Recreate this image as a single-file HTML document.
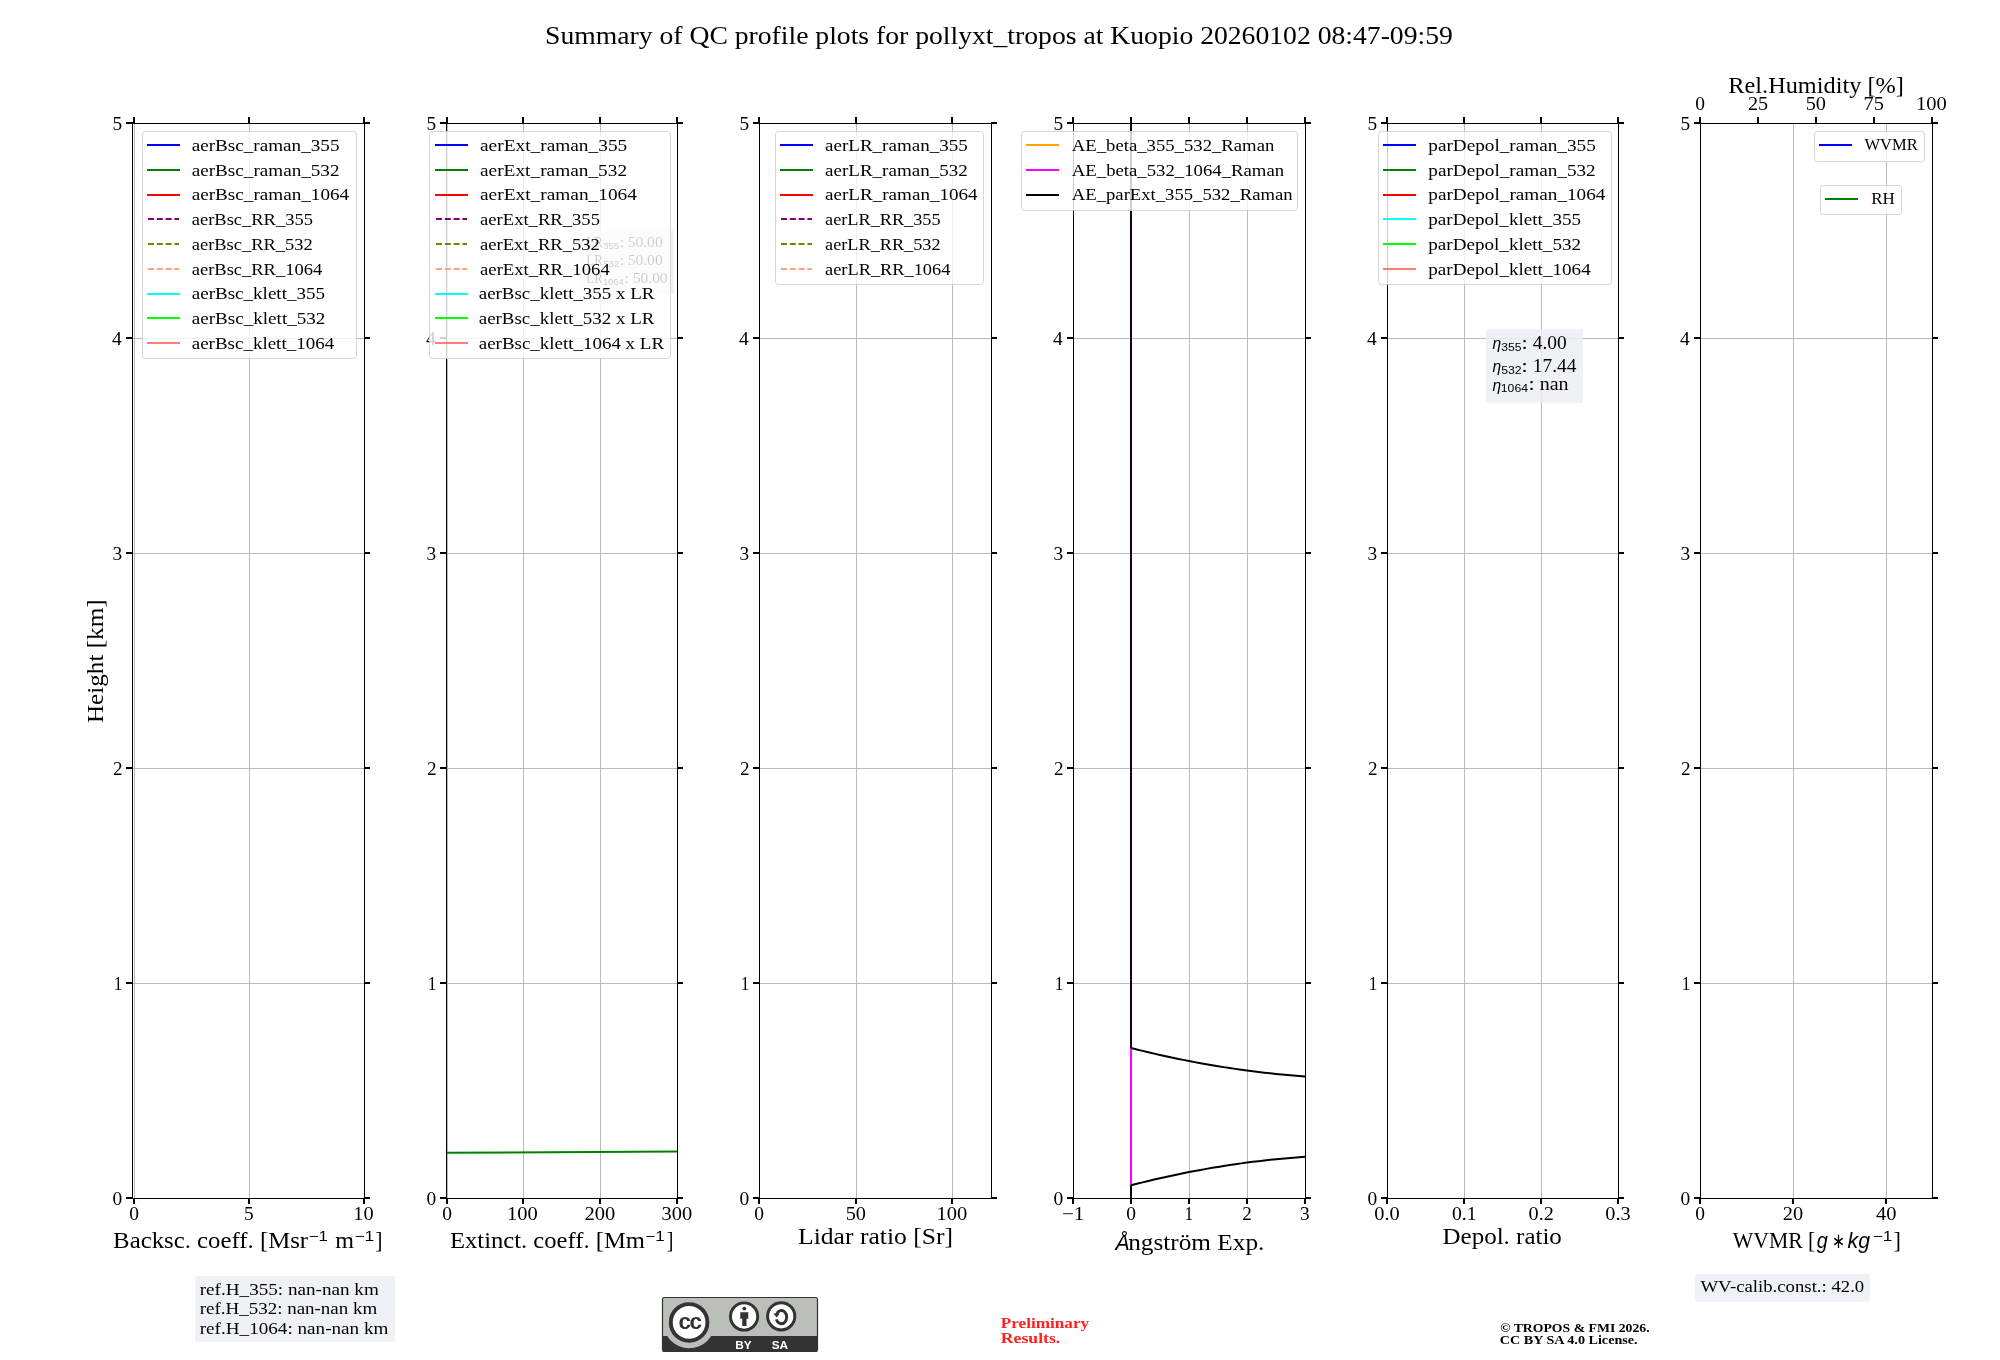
<!DOCTYPE html>
<html><head><meta charset="utf-8"><title>QC profile summary</title>
<style>html,body{margin:0;padding:0;background:#fff;width:2000px;height:1360px;overflow:hidden}</style>
</head><body>
<svg width="2000" height="1360" viewBox="0 0 2000 1360" style="display:block;will-change:transform">
<rect width="2000" height="1360" fill="#fff"/>
<line x1="134.5" y1="123" x2="134.5" y2="1199" stroke="#b9b9b9" stroke-width="1"/>
<line x1="249.5" y1="123" x2="249.5" y2="1199" stroke="#b9b9b9" stroke-width="1"/>
<line x1="364.5" y1="123" x2="364.5" y2="1199" stroke="#b9b9b9" stroke-width="1"/>
<line x1="132" y1="1198.5" x2="365" y2="1198.5" stroke="#b9b9b9" stroke-width="1"/>
<line x1="132" y1="983.5" x2="365" y2="983.5" stroke="#b9b9b9" stroke-width="1"/>
<line x1="132" y1="768.5" x2="365" y2="768.5" stroke="#b9b9b9" stroke-width="1"/>
<line x1="132" y1="553.5" x2="365" y2="553.5" stroke="#b9b9b9" stroke-width="1"/>
<line x1="132" y1="338.5" x2="365" y2="338.5" stroke="#b9b9b9" stroke-width="1"/>
<line x1="132" y1="123.5" x2="365" y2="123.5" stroke="#b9b9b9" stroke-width="1"/>
<line x1="447.5" y1="123" x2="447.5" y2="1199" stroke="#b9b9b9" stroke-width="1"/>
<line x1="523.5" y1="123" x2="523.5" y2="1199" stroke="#b9b9b9" stroke-width="1"/>
<line x1="600.5" y1="123" x2="600.5" y2="1199" stroke="#b9b9b9" stroke-width="1"/>
<line x1="677.5" y1="123" x2="677.5" y2="1199" stroke="#b9b9b9" stroke-width="1"/>
<line x1="446" y1="1198.5" x2="678" y2="1198.5" stroke="#b9b9b9" stroke-width="1"/>
<line x1="446" y1="983.5" x2="678" y2="983.5" stroke="#b9b9b9" stroke-width="1"/>
<line x1="446" y1="768.5" x2="678" y2="768.5" stroke="#b9b9b9" stroke-width="1"/>
<line x1="446" y1="553.5" x2="678" y2="553.5" stroke="#b9b9b9" stroke-width="1"/>
<line x1="446" y1="338.5" x2="678" y2="338.5" stroke="#b9b9b9" stroke-width="1"/>
<line x1="446" y1="123.5" x2="678" y2="123.5" stroke="#b9b9b9" stroke-width="1"/>
<line x1="759.5" y1="123" x2="759.5" y2="1199" stroke="#b9b9b9" stroke-width="1"/>
<line x1="856.5" y1="123" x2="856.5" y2="1199" stroke="#b9b9b9" stroke-width="1"/>
<line x1="952.5" y1="123" x2="952.5" y2="1199" stroke="#b9b9b9" stroke-width="1"/>
<line x1="759" y1="1198.5" x2="992" y2="1198.5" stroke="#b9b9b9" stroke-width="1"/>
<line x1="759" y1="983.5" x2="992" y2="983.5" stroke="#b9b9b9" stroke-width="1"/>
<line x1="759" y1="768.5" x2="992" y2="768.5" stroke="#b9b9b9" stroke-width="1"/>
<line x1="759" y1="553.5" x2="992" y2="553.5" stroke="#b9b9b9" stroke-width="1"/>
<line x1="759" y1="338.5" x2="992" y2="338.5" stroke="#b9b9b9" stroke-width="1"/>
<line x1="759" y1="123.5" x2="992" y2="123.5" stroke="#b9b9b9" stroke-width="1"/>
<line x1="1073.5" y1="123" x2="1073.5" y2="1199" stroke="#b9b9b9" stroke-width="1"/>
<line x1="1131.5" y1="123" x2="1131.5" y2="1199" stroke="#b9b9b9" stroke-width="1"/>
<line x1="1189.5" y1="123" x2="1189.5" y2="1199" stroke="#b9b9b9" stroke-width="1"/>
<line x1="1247.5" y1="123" x2="1247.5" y2="1199" stroke="#b9b9b9" stroke-width="1"/>
<line x1="1305.5" y1="123" x2="1305.5" y2="1199" stroke="#b9b9b9" stroke-width="1"/>
<line x1="1073" y1="1198.5" x2="1306" y2="1198.5" stroke="#b9b9b9" stroke-width="1"/>
<line x1="1073" y1="983.5" x2="1306" y2="983.5" stroke="#b9b9b9" stroke-width="1"/>
<line x1="1073" y1="768.5" x2="1306" y2="768.5" stroke="#b9b9b9" stroke-width="1"/>
<line x1="1073" y1="553.5" x2="1306" y2="553.5" stroke="#b9b9b9" stroke-width="1"/>
<line x1="1073" y1="338.5" x2="1306" y2="338.5" stroke="#b9b9b9" stroke-width="1"/>
<line x1="1073" y1="123.5" x2="1306" y2="123.5" stroke="#b9b9b9" stroke-width="1"/>
<line x1="1387.5" y1="123" x2="1387.5" y2="1199" stroke="#b9b9b9" stroke-width="1"/>
<line x1="1464.5" y1="123" x2="1464.5" y2="1199" stroke="#b9b9b9" stroke-width="1"/>
<line x1="1541.5" y1="123" x2="1541.5" y2="1199" stroke="#b9b9b9" stroke-width="1"/>
<line x1="1618.5" y1="123" x2="1618.5" y2="1199" stroke="#b9b9b9" stroke-width="1"/>
<line x1="1387" y1="1198.5" x2="1619" y2="1198.5" stroke="#b9b9b9" stroke-width="1"/>
<line x1="1387" y1="983.5" x2="1619" y2="983.5" stroke="#b9b9b9" stroke-width="1"/>
<line x1="1387" y1="768.5" x2="1619" y2="768.5" stroke="#b9b9b9" stroke-width="1"/>
<line x1="1387" y1="553.5" x2="1619" y2="553.5" stroke="#b9b9b9" stroke-width="1"/>
<line x1="1387" y1="338.5" x2="1619" y2="338.5" stroke="#b9b9b9" stroke-width="1"/>
<line x1="1387" y1="123.5" x2="1619" y2="123.5" stroke="#b9b9b9" stroke-width="1"/>
<line x1="1700.5" y1="123" x2="1700.5" y2="1199" stroke="#b9b9b9" stroke-width="1"/>
<line x1="1793.5" y1="123" x2="1793.5" y2="1199" stroke="#b9b9b9" stroke-width="1"/>
<line x1="1886.5" y1="123" x2="1886.5" y2="1199" stroke="#b9b9b9" stroke-width="1"/>
<line x1="1700" y1="1198.5" x2="1933" y2="1198.5" stroke="#b9b9b9" stroke-width="1"/>
<line x1="1700" y1="983.5" x2="1933" y2="983.5" stroke="#b9b9b9" stroke-width="1"/>
<line x1="1700" y1="768.5" x2="1933" y2="768.5" stroke="#b9b9b9" stroke-width="1"/>
<line x1="1700" y1="553.5" x2="1933" y2="553.5" stroke="#b9b9b9" stroke-width="1"/>
<line x1="1700" y1="338.5" x2="1933" y2="338.5" stroke="#b9b9b9" stroke-width="1"/>
<line x1="1700" y1="123.5" x2="1933" y2="123.5" stroke="#b9b9b9" stroke-width="1"/>
<g clip-path="url(#c2)"><path d="M447,1152.75 L677,1151.5" stroke="#008000" stroke-width="2" fill="none"/></g>
<g clip-path="url(#c4)" fill="none" stroke-width="2" stroke-linejoin="round">
<path d="M1131,123 L1131,1198" stroke="#ff00ff"/>
<path d="M1131,123 L1131,1048" stroke="#1a001a"/>
<path d="M1131,1185.3 L1131,1198" stroke="#000"/>
<path d="M1131.00,1048.00 L1136.80,1049.46 L1142.60,1050.88 L1148.40,1052.27 L1154.20,1053.62 L1160.00,1054.94 L1165.80,1056.22 L1171.60,1057.47 L1177.40,1058.68 L1183.20,1059.86 L1189.00,1061.00 L1194.80,1062.11 L1200.60,1063.18 L1206.40,1064.22 L1212.20,1065.22 L1218.00,1066.19 L1223.80,1067.12 L1229.60,1068.02 L1235.40,1068.88 L1241.20,1069.71 L1247.00,1070.50 L1252.80,1071.26 L1258.60,1071.98 L1264.40,1072.67 L1270.20,1073.32 L1276.00,1073.94 L1281.80,1074.52 L1287.60,1075.07 L1293.40,1075.58 L1299.20,1076.06 L1305.00,1076.50" stroke="#000"/>
<path d="M1131.00,1185.30 L1136.80,1183.81 L1142.60,1182.36 L1148.40,1180.95 L1154.20,1179.58 L1160.00,1178.24 L1165.80,1176.94 L1171.60,1175.67 L1177.40,1174.44 L1183.20,1173.25 L1189.00,1172.10 L1194.80,1170.98 L1200.60,1169.90 L1206.40,1168.86 L1212.20,1167.86 L1218.00,1166.89 L1223.80,1165.96 L1229.60,1165.06 L1235.40,1164.20 L1241.20,1163.38 L1247.00,1162.60 L1252.80,1161.85 L1258.60,1161.14 L1264.40,1160.47 L1270.20,1159.84 L1276.00,1159.24 L1281.80,1158.68 L1287.60,1158.15 L1293.40,1157.66 L1299.20,1157.21 L1305.00,1156.80" stroke="#000"/>
</g>
<g fill="#000" shape-rendering="crispEdges">
<rect x="132" y="123" width="1" height="1076"/>
<rect x="364" y="123" width="1" height="1076"/>
<rect x="132" y="123" width="233" height="1"/>
<rect x="132" y="1198" width="233" height="1"/>
<rect x="126" y="1197" width="7" height="2"/>
<rect x="364" y="1197" width="6" height="2"/>
<rect x="126" y="982" width="7" height="2"/>
<rect x="364" y="982" width="6" height="2"/>
<rect x="126" y="767" width="7" height="2"/>
<rect x="364" y="767" width="6" height="2"/>
<rect x="126" y="552" width="7" height="2"/>
<rect x="364" y="552" width="6" height="2"/>
<rect x="126" y="337" width="7" height="2"/>
<rect x="364" y="337" width="6" height="2"/>
<rect x="126" y="122" width="7" height="2"/>
<rect x="364" y="122" width="6" height="2"/>
<rect x="133" y="117" width="2" height="7"/>
<rect x="133" y="1198" width="2" height="6"/>
<rect x="248" y="117" width="2" height="7"/>
<rect x="248" y="1198" width="2" height="6"/>
<rect x="363" y="117" width="2" height="7"/>
<rect x="363" y="1198" width="2" height="6"/>
</g>
<g fill="#000" shape-rendering="crispEdges">
<rect x="446" y="123" width="1" height="1076"/>
<rect x="677" y="123" width="1" height="1076"/>
<rect x="446" y="123" width="232" height="1"/>
<rect x="446" y="1198" width="232" height="1"/>
<rect x="440" y="1197" width="7" height="2"/>
<rect x="677" y="1197" width="6" height="2"/>
<rect x="440" y="982" width="7" height="2"/>
<rect x="677" y="982" width="6" height="2"/>
<rect x="440" y="767" width="7" height="2"/>
<rect x="677" y="767" width="6" height="2"/>
<rect x="440" y="552" width="7" height="2"/>
<rect x="677" y="552" width="6" height="2"/>
<rect x="440" y="337" width="7" height="2"/>
<rect x="677" y="337" width="6" height="2"/>
<rect x="440" y="122" width="7" height="2"/>
<rect x="677" y="122" width="6" height="2"/>
<rect x="446" y="117" width="2" height="7"/>
<rect x="446" y="1198" width="2" height="6"/>
<rect x="522" y="117" width="2" height="7"/>
<rect x="522" y="1198" width="2" height="6"/>
<rect x="599" y="117" width="2" height="7"/>
<rect x="599" y="1198" width="2" height="6"/>
<rect x="676" y="117" width="2" height="7"/>
<rect x="676" y="1198" width="2" height="6"/>
</g>
<g fill="#000" shape-rendering="crispEdges">
<rect x="759" y="123" width="1" height="1076"/>
<rect x="991" y="123" width="1" height="1076"/>
<rect x="759" y="123" width="233" height="1"/>
<rect x="759" y="1198" width="233" height="1"/>
<rect x="753" y="1197" width="7" height="2"/>
<rect x="991" y="1197" width="6" height="2"/>
<rect x="753" y="982" width="7" height="2"/>
<rect x="991" y="982" width="6" height="2"/>
<rect x="753" y="767" width="7" height="2"/>
<rect x="991" y="767" width="6" height="2"/>
<rect x="753" y="552" width="7" height="2"/>
<rect x="991" y="552" width="6" height="2"/>
<rect x="753" y="337" width="7" height="2"/>
<rect x="991" y="337" width="6" height="2"/>
<rect x="753" y="122" width="7" height="2"/>
<rect x="991" y="122" width="6" height="2"/>
<rect x="758" y="117" width="2" height="7"/>
<rect x="758" y="1198" width="2" height="6"/>
<rect x="855" y="117" width="2" height="7"/>
<rect x="855" y="1198" width="2" height="6"/>
<rect x="951" y="117" width="2" height="7"/>
<rect x="951" y="1198" width="2" height="6"/>
</g>
<g fill="#000" shape-rendering="crispEdges">
<rect x="1073" y="123" width="1" height="1076"/>
<rect x="1305" y="123" width="1" height="1076"/>
<rect x="1073" y="123" width="233" height="1"/>
<rect x="1073" y="1198" width="233" height="1"/>
<rect x="1067" y="1197" width="7" height="2"/>
<rect x="1305" y="1197" width="6" height="2"/>
<rect x="1067" y="982" width="7" height="2"/>
<rect x="1305" y="982" width="6" height="2"/>
<rect x="1067" y="767" width="7" height="2"/>
<rect x="1305" y="767" width="6" height="2"/>
<rect x="1067" y="552" width="7" height="2"/>
<rect x="1305" y="552" width="6" height="2"/>
<rect x="1067" y="337" width="7" height="2"/>
<rect x="1305" y="337" width="6" height="2"/>
<rect x="1067" y="122" width="7" height="2"/>
<rect x="1305" y="122" width="6" height="2"/>
<rect x="1072" y="117" width="2" height="7"/>
<rect x="1072" y="1198" width="2" height="6"/>
<rect x="1130" y="117" width="2" height="7"/>
<rect x="1130" y="1198" width="2" height="6"/>
<rect x="1188" y="117" width="2" height="7"/>
<rect x="1188" y="1198" width="2" height="6"/>
<rect x="1246" y="117" width="2" height="7"/>
<rect x="1246" y="1198" width="2" height="6"/>
<rect x="1304" y="117" width="2" height="7"/>
<rect x="1304" y="1198" width="2" height="6"/>
</g>
<g fill="#000" shape-rendering="crispEdges">
<rect x="1387" y="123" width="1" height="1076"/>
<rect x="1618" y="123" width="1" height="1076"/>
<rect x="1387" y="123" width="232" height="1"/>
<rect x="1387" y="1198" width="232" height="1"/>
<rect x="1381" y="1197" width="7" height="2"/>
<rect x="1618" y="1197" width="6" height="2"/>
<rect x="1381" y="982" width="7" height="2"/>
<rect x="1618" y="982" width="6" height="2"/>
<rect x="1381" y="767" width="7" height="2"/>
<rect x="1618" y="767" width="6" height="2"/>
<rect x="1381" y="552" width="7" height="2"/>
<rect x="1618" y="552" width="6" height="2"/>
<rect x="1381" y="337" width="7" height="2"/>
<rect x="1618" y="337" width="6" height="2"/>
<rect x="1381" y="122" width="7" height="2"/>
<rect x="1618" y="122" width="6" height="2"/>
<rect x="1386" y="117" width="2" height="7"/>
<rect x="1386" y="1198" width="2" height="6"/>
<rect x="1463" y="117" width="2" height="7"/>
<rect x="1463" y="1198" width="2" height="6"/>
<rect x="1540" y="117" width="2" height="7"/>
<rect x="1540" y="1198" width="2" height="6"/>
<rect x="1617" y="117" width="2" height="7"/>
<rect x="1617" y="1198" width="2" height="6"/>
</g>
<g fill="#000" shape-rendering="crispEdges">
<rect x="1700" y="123" width="1" height="1076"/>
<rect x="1932" y="123" width="1" height="1076"/>
<rect x="1700" y="123" width="233" height="1"/>
<rect x="1700" y="1198" width="233" height="1"/>
<rect x="1694" y="1197" width="7" height="2"/>
<rect x="1932" y="1197" width="6" height="2"/>
<rect x="1694" y="982" width="7" height="2"/>
<rect x="1932" y="982" width="6" height="2"/>
<rect x="1694" y="767" width="7" height="2"/>
<rect x="1932" y="767" width="6" height="2"/>
<rect x="1694" y="552" width="7" height="2"/>
<rect x="1932" y="552" width="6" height="2"/>
<rect x="1694" y="337" width="7" height="2"/>
<rect x="1932" y="337" width="6" height="2"/>
<rect x="1694" y="122" width="7" height="2"/>
<rect x="1932" y="122" width="6" height="2"/>
<rect x="1699" y="1198" width="2" height="6"/>
<rect x="1792" y="1198" width="2" height="6"/>
<rect x="1885" y="1198" width="2" height="6"/>
<rect x="1699" y="117" width="2" height="7"/>
<rect x="1757" y="117" width="2" height="7"/>
<rect x="1815" y="117" width="2" height="7"/>
<rect x="1873" y="117" width="2" height="7"/>
<rect x="1931" y="117" width="2" height="7"/>
</g>
<text transform="matrix(1.0676,0,0,1,112.49,1204.80)" font-family='"Liberation Serif", serif' font-size="18.25" fill="#000" >0</text>
<text transform="matrix(0.9494,0,0,1,113.87,989.80)" font-family='"Liberation Serif", serif' font-size="18.25" fill="#000" >1</text>
<text transform="matrix(1.0491,0,0,1,112.98,774.80)" font-family='"Liberation Serif", serif' font-size="18.25" fill="#000" >2</text>
<text transform="matrix(1.0618,0,0,1,112.58,559.80)" font-family='"Liberation Serif", serif' font-size="18.25" fill="#000" >3</text>
<text transform="matrix(1.0724,0,0,1,112.01,344.80)" font-family='"Liberation Serif", serif' font-size="18.25" fill="#000" >4</text>
<text transform="matrix(1.0603,0,0,1,112.60,129.80)" font-family='"Liberation Serif", serif' font-size="18.25" fill="#000" >5</text>
<text transform="matrix(1.0676,0,0,1,129.13,1219.80)" font-family='"Liberation Serif", serif' font-size="18.25" fill="#000" >0</text>
<text transform="matrix(1.0603,0,0,1,243.99,1219.80)" font-family='"Liberation Serif", serif' font-size="18.25" fill="#000" >5</text>
<text transform="matrix(1.1141,0,0,1,353.32,1219.80)" font-family='"Liberation Serif", serif' font-size="18.25" fill="#000" >10</text>
<text transform="matrix(1.0676,0,0,1,426.49,1204.80)" font-family='"Liberation Serif", serif' font-size="18.25" fill="#000" >0</text>
<text transform="matrix(0.9494,0,0,1,427.87,989.80)" font-family='"Liberation Serif", serif' font-size="18.25" fill="#000" >1</text>
<text transform="matrix(1.0491,0,0,1,426.98,774.80)" font-family='"Liberation Serif", serif' font-size="18.25" fill="#000" >2</text>
<text transform="matrix(1.0618,0,0,1,426.58,559.80)" font-family='"Liberation Serif", serif' font-size="18.25" fill="#000" >3</text>
<text transform="matrix(1.0724,0,0,1,426.01,344.80)" font-family='"Liberation Serif", serif' font-size="18.25" fill="#000" >4</text>
<text transform="matrix(1.0603,0,0,1,426.60,129.80)" font-family='"Liberation Serif", serif' font-size="18.25" fill="#000" >5</text>
<text transform="matrix(1.0676,0,0,1,442.13,1219.80)" font-family='"Liberation Serif", serif' font-size="18.25" fill="#000" >0</text>
<text transform="matrix(1.1239,0,0,1,507.10,1219.80)" font-family='"Liberation Serif", serif' font-size="18.25" fill="#000" >100</text>
<text transform="matrix(1.1231,0,0,1,584.57,1219.80)" font-family='"Liberation Serif", serif' font-size="18.25" fill="#000" >200</text>
<text transform="matrix(1.1223,0,0,1,661.53,1219.80)" font-family='"Liberation Serif", serif' font-size="18.25" fill="#000" >300</text>
<text transform="matrix(1.0676,0,0,1,739.49,1204.80)" font-family='"Liberation Serif", serif' font-size="18.25" fill="#000" >0</text>
<text transform="matrix(0.9494,0,0,1,740.87,989.80)" font-family='"Liberation Serif", serif' font-size="18.25" fill="#000" >1</text>
<text transform="matrix(1.0491,0,0,1,739.98,774.80)" font-family='"Liberation Serif", serif' font-size="18.25" fill="#000" >2</text>
<text transform="matrix(1.0618,0,0,1,739.58,559.80)" font-family='"Liberation Serif", serif' font-size="18.25" fill="#000" >3</text>
<text transform="matrix(1.0724,0,0,1,739.01,344.80)" font-family='"Liberation Serif", serif' font-size="18.25" fill="#000" >4</text>
<text transform="matrix(1.0603,0,0,1,739.60,129.80)" font-family='"Liberation Serif", serif' font-size="18.25" fill="#000" >5</text>
<text transform="matrix(1.0676,0,0,1,754.13,1219.80)" font-family='"Liberation Serif", serif' font-size="18.25" fill="#000" >0</text>
<text transform="matrix(1.1144,0,0,1,845.63,1219.80)" font-family='"Liberation Serif", serif' font-size="18.25" fill="#000" >50</text>
<text transform="matrix(1.1239,0,0,1,936.60,1219.80)" font-family='"Liberation Serif", serif' font-size="18.25" fill="#000" >100</text>
<text transform="matrix(1.0676,0,0,1,1053.49,1204.80)" font-family='"Liberation Serif", serif' font-size="18.25" fill="#000" >0</text>
<text transform="matrix(0.9494,0,0,1,1054.87,989.80)" font-family='"Liberation Serif", serif' font-size="18.25" fill="#000" >1</text>
<text transform="matrix(1.0491,0,0,1,1053.98,774.80)" font-family='"Liberation Serif", serif' font-size="18.25" fill="#000" >2</text>
<text transform="matrix(1.0618,0,0,1,1053.58,559.80)" font-family='"Liberation Serif", serif' font-size="18.25" fill="#000" >3</text>
<text transform="matrix(1.0724,0,0,1,1053.01,344.80)" font-family='"Liberation Serif", serif' font-size="18.25" fill="#000" >4</text>
<text transform="matrix(1.0603,0,0,1,1053.60,129.80)" font-family='"Liberation Serif", serif' font-size="18.25" fill="#000" >5</text>
<text transform="matrix(1.1548,0,0,1,1061.88,1219.80)" font-family='"Liberation Serif", serif' font-size="18.25" fill="#000" >−1</text>
<text transform="matrix(1.0676,0,0,1,1126.13,1219.80)" font-family='"Liberation Serif", serif' font-size="18.25" fill="#000" >0</text>
<text transform="matrix(0.9494,0,0,1,1184.43,1219.80)" font-family='"Liberation Serif", serif' font-size="18.25" fill="#000" >1</text>
<text transform="matrix(1.0491,0,0,1,1242.33,1219.80)" font-family='"Liberation Serif", serif' font-size="18.25" fill="#000" >2</text>
<text transform="matrix(1.0618,0,0,1,1300.08,1219.80)" font-family='"Liberation Serif", serif' font-size="18.25" fill="#000" >3</text>
<text transform="matrix(1.0676,0,0,1,1367.49,1204.80)" font-family='"Liberation Serif", serif' font-size="18.25" fill="#000" >0</text>
<text transform="matrix(0.9494,0,0,1,1368.87,989.80)" font-family='"Liberation Serif", serif' font-size="18.25" fill="#000" >1</text>
<text transform="matrix(1.0491,0,0,1,1367.98,774.80)" font-family='"Liberation Serif", serif' font-size="18.25" fill="#000" >2</text>
<text transform="matrix(1.0618,0,0,1,1367.58,559.80)" font-family='"Liberation Serif", serif' font-size="18.25" fill="#000" >3</text>
<text transform="matrix(1.0724,0,0,1,1367.01,344.80)" font-family='"Liberation Serif", serif' font-size="18.25" fill="#000" >4</text>
<text transform="matrix(1.0603,0,0,1,1367.60,129.80)" font-family='"Liberation Serif", serif' font-size="18.25" fill="#000" >5</text>
<text transform="matrix(1.1164,0,0,1,1374.26,1219.80)" font-family='"Liberation Serif", serif' font-size="18.25" fill="#000" >0.0</text>
<text transform="matrix(1.0797,0,0,1,1451.90,1219.80)" font-family='"Liberation Serif", serif' font-size="18.25" fill="#000" >0.1</text>
<text transform="matrix(1.1081,0,0,1,1528.54,1219.80)" font-family='"Liberation Serif", serif' font-size="18.25" fill="#000" >0.2</text>
<text transform="matrix(1.1130,0,0,1,1605.33,1219.80)" font-family='"Liberation Serif", serif' font-size="18.25" fill="#000" >0.3</text>
<text transform="matrix(1.0676,0,0,1,1680.49,1204.80)" font-family='"Liberation Serif", serif' font-size="18.25" fill="#000" >0</text>
<text transform="matrix(0.9494,0,0,1,1681.87,989.80)" font-family='"Liberation Serif", serif' font-size="18.25" fill="#000" >1</text>
<text transform="matrix(1.0491,0,0,1,1680.98,774.80)" font-family='"Liberation Serif", serif' font-size="18.25" fill="#000" >2</text>
<text transform="matrix(1.0618,0,0,1,1680.58,559.80)" font-family='"Liberation Serif", serif' font-size="18.25" fill="#000" >3</text>
<text transform="matrix(1.0724,0,0,1,1680.01,344.80)" font-family='"Liberation Serif", serif' font-size="18.25" fill="#000" >4</text>
<text transform="matrix(1.0603,0,0,1,1680.60,129.80)" font-family='"Liberation Serif", serif' font-size="18.25" fill="#000" >5</text>
<text transform="matrix(1.0676,0,0,1,1695.13,1219.80)" font-family='"Liberation Serif", serif' font-size="18.25" fill="#000" >0</text>
<text transform="matrix(1.1133,0,0,1,1782.79,1219.80)" font-family='"Liberation Serif", serif' font-size="18.25" fill="#000" >20</text>
<text transform="matrix(1.1225,0,0,1,1875.93,1219.80)" font-family='"Liberation Serif", serif' font-size="18.25" fill="#000" >40</text>
<text transform="matrix(1.0676,0,0,1,1695.13,109.50)" font-family='"Liberation Serif", serif' font-size="18.25" fill="#000" >0</text>
<text transform="matrix(1.1066,0,0,1,1747.88,109.50)" font-family='"Liberation Serif", serif' font-size="18.25" fill="#000" >25</text>
<text transform="matrix(1.1144,0,0,1,1805.63,109.50)" font-family='"Liberation Serif", serif' font-size="18.25" fill="#000" >50</text>
<text transform="matrix(1.1193,0,0,1,1863.53,109.50)" font-family='"Liberation Serif", serif' font-size="18.25" fill="#000" >75</text>
<text transform="matrix(1.1239,0,0,1,1916.10,109.50)" font-family='"Liberation Serif", serif' font-size="18.25" fill="#000" >100</text>
<rect x="579.5" y="231" width="94.5" height="62.80000000000001" fill="#eceef4" fill-opacity="0.85"/>
<text transform="matrix(0.9161,0,0,1,586.35,246.70)" font-family='"Liberation Serif", serif' font-size="13.91" fill="#000" >LR</text>
<text transform="matrix(1.0248,0,0,1,603.24,248.70)" font-family='"Liberation Sans", sans-serif' font-size="9.33" fill="#000" >355</text>
<text transform="matrix(1.2235,0,0,1,619.74,246.70)" font-family='"Liberation Serif", serif' font-size="13.91" fill="#000" >:</text>
<text transform="matrix(1.1174,0,0,1,627.71,246.70)" font-family='"Liberation Serif", serif' font-size="13.91" fill="#000" >50.00</text>
<text transform="matrix(0.9161,0,0,1,586.35,264.90)" font-family='"Liberation Serif", serif' font-size="13.91" fill="#000" >LR</text>
<text transform="matrix(1.0330,0,0,1,603.21,266.90)" font-family='"Liberation Sans", sans-serif' font-size="9.33" fill="#000" >532</text>
<text transform="matrix(1.2235,0,0,1,619.74,264.90)" font-family='"Liberation Serif", serif' font-size="13.91" fill="#000" >:</text>
<text transform="matrix(1.1174,0,0,1,627.71,264.90)" font-family='"Liberation Serif", serif' font-size="13.91" fill="#000" >50.00</text>
<text transform="matrix(0.9161,0,0,1,586.35,283.40)" font-family='"Liberation Serif", serif' font-size="13.91" fill="#000" >LR</text>
<text transform="matrix(1.0012,0,0,1,602.90,285.40)" font-family='"Liberation Sans", sans-serif' font-size="9.33" fill="#000" >1064</text>
<text transform="matrix(1.2235,0,0,1,624.34,283.40)" font-family='"Liberation Serif", serif' font-size="13.91" fill="#000" >:</text>
<text transform="matrix(1.1074,0,0,1,632.91,283.40)" font-family='"Liberation Serif", serif' font-size="13.91" fill="#000" >50.00</text>
<rect x="142.5" y="131.5" width="214.0" height="227.0" rx="3" ry="3" fill="#fff" fill-opacity="0.8" stroke="#cccccc" stroke-opacity="0.8" stroke-width="1"/>
<rect x="147" y="144" width="33" height="2" fill="#0000ff" shape-rendering="crispEdges"/>
<text transform="matrix(1.1245,0,0,1,191.73,150.80)" font-family='"Liberation Serif", serif' font-size="17.03" fill="#000" >aerBsc_raman_355</text>
<rect x="147" y="169" width="33" height="2" fill="#008000" shape-rendering="crispEdges"/>
<text transform="matrix(1.1252,0,0,1,191.73,175.58)" font-family='"Liberation Serif", serif' font-size="17.03" fill="#000" >aerBsc_raman_532</text>
<rect x="147" y="194" width="33" height="2" fill="#ff0000" shape-rendering="crispEdges"/>
<text transform="matrix(1.1256,0,0,1,191.73,200.36)" font-family='"Liberation Serif", serif' font-size="17.03" fill="#000" >aerBsc_raman_1064</text>
<line x1="148" y1="219" x2="179" y2="219" stroke="#800080" stroke-width="2" stroke-dasharray="6 2.8"/>
<text transform="matrix(1.0857,0,0,1,191.75,225.14)" font-family='"Liberation Serif", serif' font-size="17.03" fill="#000" >aerBsc_RR_355</text>
<line x1="148" y1="244" x2="179" y2="244" stroke="#808000" stroke-width="2" stroke-dasharray="6 2.8"/>
<text transform="matrix(1.0845,0,0,1,191.75,249.92)" font-family='"Liberation Serif", serif' font-size="17.03" fill="#000" >aerBsc_RR_532</text>
<line x1="148" y1="269" x2="179" y2="269" stroke="#ffa07a" stroke-width="2" stroke-dasharray="6 2.8"/>
<text transform="matrix(1.0865,0,0,1,191.75,274.70)" font-family='"Liberation Serif", serif' font-size="17.03" fill="#000" >aerBsc_RR_1064</text>
<rect x="147" y="293" width="33" height="2" fill="#00ffff" shape-rendering="crispEdges"/>
<text transform="matrix(1.1198,0,0,1,191.73,299.48)" font-family='"Liberation Serif", serif' font-size="17.03" fill="#000" >aerBsc_klett_355</text>
<rect x="147" y="317" width="33" height="2" fill="#00ff00" shape-rendering="crispEdges"/>
<text transform="matrix(1.1222,0,0,1,191.73,324.26)" font-family='"Liberation Serif", serif' font-size="17.03" fill="#000" >aerBsc_klett_532</text>
<rect x="147" y="342" width="33" height="2" fill="#fa8072" shape-rendering="crispEdges"/>
<text transform="matrix(1.1165,0,0,1,191.73,349.04)" font-family='"Liberation Serif", serif' font-size="17.03" fill="#000" >aerBsc_klett_1064</text>
<rect x="429.5" y="131.5" width="241.0" height="227.0" rx="3" ry="3" fill="#fff" fill-opacity="0.8" stroke="#cccccc" stroke-opacity="0.8" stroke-width="1"/>
<rect x="435" y="144" width="33" height="2" fill="#0000ff" shape-rendering="crispEdges"/>
<text transform="matrix(1.1221,0,0,1,480.02,150.80)" font-family='"Liberation Serif", serif' font-size="17.25" fill="#000" >aerExt_raman_355</text>
<rect x="435" y="169" width="33" height="2" fill="#008000" shape-rendering="crispEdges"/>
<text transform="matrix(1.1217,0,0,1,480.02,175.58)" font-family='"Liberation Serif", serif' font-size="17.25" fill="#000" >aerExt_raman_532</text>
<rect x="435" y="194" width="33" height="2" fill="#ff0000" shape-rendering="crispEdges"/>
<text transform="matrix(1.1226,0,0,1,480.02,200.36)" font-family='"Liberation Serif", serif' font-size="17.25" fill="#000" >aerExt_raman_1064</text>
<line x1="436" y1="219" x2="467" y2="219" stroke="#800080" stroke-width="2" stroke-dasharray="6 2.8"/>
<text transform="matrix(1.0794,0,0,1,480.05,225.14)" font-family='"Liberation Serif", serif' font-size="17.25" fill="#000" >aerExt_RR_355</text>
<line x1="436" y1="244" x2="467" y2="244" stroke="#808000" stroke-width="2" stroke-dasharray="6 2.8"/>
<text transform="matrix(1.0788,0,0,1,480.05,249.92)" font-family='"Liberation Serif", serif' font-size="17.25" fill="#000" >aerExt_RR_532</text>
<line x1="436" y1="269" x2="467" y2="269" stroke="#ffa07a" stroke-width="2" stroke-dasharray="6 2.8"/>
<text transform="matrix(1.0836,0,0,1,480.05,274.70)" font-family='"Liberation Serif", serif' font-size="17.25" fill="#000" >aerExt_RR_1064</text>
<rect x="435" y="293" width="33" height="2" fill="#00ffff" shape-rendering="crispEdges"/>
<text transform="matrix(1.0983,0,0,1,478.74,299.48)" font-family='"Liberation Serif", serif' font-size="17.25" fill="#000" >aerBsc_klett_355 x LR</text>
<rect x="435" y="317" width="33" height="2" fill="#00ff00" shape-rendering="crispEdges"/>
<text transform="matrix(1.0983,0,0,1,478.74,324.26)" font-family='"Liberation Serif", serif' font-size="17.25" fill="#000" >aerBsc_klett_532 x LR</text>
<rect x="435" y="342" width="33" height="2" fill="#fa8072" shape-rendering="crispEdges"/>
<text transform="matrix(1.1007,0,0,1,478.74,349.04)" font-family='"Liberation Serif", serif' font-size="17.25" fill="#000" >aerBsc_klett_1064 x LR</text>
<rect x="775.5" y="131.5" width="208.0" height="153.0" rx="3" ry="3" fill="#fff" fill-opacity="0.8" stroke="#cccccc" stroke-opacity="0.8" stroke-width="1"/>
<rect x="780" y="144" width="33" height="2" fill="#0000ff" shape-rendering="crispEdges"/>
<text transform="matrix(1.1049,0,0,1,825.03,150.80)" font-family='"Liberation Serif", serif' font-size="17.25" fill="#000" >aerLR_raman_355</text>
<rect x="780" y="169" width="33" height="2" fill="#008000" shape-rendering="crispEdges"/>
<text transform="matrix(1.1044,0,0,1,825.03,175.58)" font-family='"Liberation Serif", serif' font-size="17.25" fill="#000" >aerLR_raman_532</text>
<rect x="780" y="194" width="33" height="2" fill="#ff0000" shape-rendering="crispEdges"/>
<text transform="matrix(1.1068,0,0,1,825.03,200.36)" font-family='"Liberation Serif", serif' font-size="17.25" fill="#000" >aerLR_raman_1064</text>
<line x1="781" y1="219" x2="812" y2="219" stroke="#800080" stroke-width="2" stroke-dasharray="6 2.8"/>
<text transform="matrix(1.0586,0,0,1,825.06,225.14)" font-family='"Liberation Serif", serif' font-size="17.25" fill="#000" >aerLR_RR_355</text>
<line x1="781" y1="244" x2="812" y2="244" stroke="#808000" stroke-width="2" stroke-dasharray="6 2.8"/>
<text transform="matrix(1.0579,0,0,1,825.06,249.92)" font-family='"Liberation Serif", serif' font-size="17.25" fill="#000" >aerLR_RR_532</text>
<line x1="781" y1="269" x2="812" y2="269" stroke="#ffa07a" stroke-width="2" stroke-dasharray="6 2.8"/>
<text transform="matrix(1.0641,0,0,1,825.06,274.70)" font-family='"Liberation Serif", serif' font-size="17.25" fill="#000" >aerLR_RR_1064</text>
<rect x="1021.5" y="131.5" width="276.0" height="79.0" rx="3" ry="3" fill="#fff" fill-opacity="0.8" stroke="#cccccc" stroke-opacity="0.8" stroke-width="1"/>
<rect x="1026" y="144" width="33" height="2" fill="#ffa500" shape-rendering="crispEdges"/>
<text transform="matrix(1.0843,0,0,1,1071.81,150.80)" font-family='"Liberation Serif", serif' font-size="17.25" fill="#000" >AE_beta_355_532_Raman</text>
<rect x="1026" y="169" width="33" height="2" fill="#ff00ff" shape-rendering="crispEdges"/>
<text transform="matrix(1.0868,0,0,1,1071.81,175.58)" font-family='"Liberation Serif", serif' font-size="17.25" fill="#000" >AE_beta_532_1064_Raman</text>
<rect x="1026" y="194" width="33" height="2" fill="#000000" shape-rendering="crispEdges"/>
<text transform="matrix(1.0823,0,0,1,1071.81,200.36)" font-family='"Liberation Serif", serif' font-size="17.25" fill="#000" >AE_parExt_355_532_Raman</text>
<rect x="1378.5" y="131.5" width="233.0" height="153.0" rx="3" ry="3" fill="#fff" fill-opacity="0.8" stroke="#cccccc" stroke-opacity="0.8" stroke-width="1"/>
<rect x="1383" y="144" width="33" height="2" fill="#0000ff" shape-rendering="crispEdges"/>
<text transform="matrix(1.1134,0,0,1,1428.31,150.80)" font-family='"Liberation Serif", serif' font-size="17.25" fill="#000" >parDepol_raman_355</text>
<rect x="1383" y="169" width="33" height="2" fill="#008000" shape-rendering="crispEdges"/>
<text transform="matrix(1.1130,0,0,1,1428.31,175.58)" font-family='"Liberation Serif", serif' font-size="17.25" fill="#000" >parDepol_raman_532</text>
<rect x="1383" y="194" width="33" height="2" fill="#ff0000" shape-rendering="crispEdges"/>
<text transform="matrix(1.1145,0,0,1,1428.31,200.36)" font-family='"Liberation Serif", serif' font-size="17.25" fill="#000" >parDepol_raman_1064</text>
<rect x="1383" y="218" width="33" height="2" fill="#00ffff" shape-rendering="crispEdges"/>
<text transform="matrix(1.1083,0,0,1,1428.31,225.14)" font-family='"Liberation Serif", serif' font-size="17.25" fill="#000" >parDepol_klett_355</text>
<rect x="1383" y="243" width="33" height="2" fill="#00ff00" shape-rendering="crispEdges"/>
<text transform="matrix(1.1079,0,0,1,1428.31,249.92)" font-family='"Liberation Serif", serif' font-size="17.25" fill="#000" >parDepol_klett_532</text>
<rect x="1383" y="268" width="33" height="2" fill="#fa8072" shape-rendering="crispEdges"/>
<text transform="matrix(1.1096,0,0,1,1428.31,274.70)" font-family='"Liberation Serif", serif' font-size="17.25" fill="#000" >parDepol_klett_1064</text>
<rect x="1814.5" y="131.5" width="110.0" height="30.0" rx="3" ry="3" fill="#fff" fill-opacity="0.8" stroke="#cccccc" stroke-opacity="0.8" stroke-width="1"/>
<rect x="1819" y="144" width="33" height="2" fill="#0000ff" shape-rendering="crispEdges"/>
<text transform="matrix(0.9739,0,0,1,1864.40,149.80)" font-family='"Liberation Serif", serif' font-size="17.03" fill="#000" >WVMR</text>
<rect x="1820.5" y="185.5" width="81.0" height="29.0" rx="3" ry="3" fill="#fff" fill-opacity="0.8" stroke="#cccccc" stroke-opacity="0.8" stroke-width="1"/>
<rect x="1825" y="198" width="33" height="2" fill="#008000" shape-rendering="crispEdges"/>
<text transform="matrix(1.0004,0,0,1,1871.23,204.00)" font-family='"Liberation Serif", serif' font-size="17.03" fill="#000" >RH</text>
<rect x="1486" y="329.3" width="97" height="73.5" fill="#eceef4" fill-opacity="0.85"/>
<text transform="matrix(0.8994,0,0,1,1492.43,349.00)" font-family='"Liberation Sans", sans-serif' font-size="17.38" font-style="italic" fill="#000" >η</text>
<text transform="matrix(1.1011,0,0,1,1501.24,350.80)" font-family='"Liberation Sans", sans-serif' font-size="11.02" fill="#000" >355</text>
<text transform="matrix(1.2123,0,0,1,1521.53,348.50)" font-family='"Liberation Serif", serif' font-size="18.25" fill="#000" >:</text>
<text transform="matrix(1.0649,0,0,1,1532.71,348.50)" font-family='"Liberation Serif", serif' font-size="18.25" fill="#000" >4.00</text>
<text transform="matrix(0.8994,0,0,1,1492.43,372.20)" font-family='"Liberation Sans", sans-serif' font-size="17.38" font-style="italic" fill="#000" >η</text>
<text transform="matrix(1.1098,0,0,1,1501.21,374.00)" font-family='"Liberation Sans", sans-serif' font-size="11.02" fill="#000" >532</text>
<text transform="matrix(1.2123,0,0,1,1521.53,371.70)" font-family='"Liberation Serif", serif' font-size="18.25" fill="#000" >:</text>
<text transform="matrix(1.0587,0,0,1,1532.81,371.70)" font-family='"Liberation Serif", serif' font-size="18.25" fill="#000" >17.44</text>
<text transform="matrix(0.8994,0,0,1,1492.43,390.50)" font-family='"Liberation Sans", sans-serif' font-size="17.38" font-style="italic" fill="#000" >η</text>
<text transform="matrix(1.1125,0,0,1,1500.78,392.30)" font-family='"Liberation Sans", sans-serif' font-size="11.02" fill="#000" >1064</text>
<text transform="matrix(1.2123,0,0,1,1528.53,390.00)" font-family='"Liberation Serif", serif' font-size="18.25" fill="#000" >:</text>
<text transform="matrix(1.0976,0,0,1,1539.65,390.00)" font-family='"Liberation Serif", serif' font-size="18.25" fill="#000" >nan</text>
<text transform="matrix(1.1148,0,0,1,545.03,44.40)" font-family='"Liberation Serif", serif' font-size="24.82" fill="#000" >Summary of QC profile plots for pollyxt_tropos at Kuopio 20260102 08:47-09:59</text>
<text transform="matrix(1.1144,0,0,1,113.12,1247.80)" font-family='"Liberation Serif", serif' font-size="22.26" fill="#000" >Backsc. coeff. [Msr</text>
<text transform="matrix(1.2182,0,0,1,308.66,1241.10)" font-family='"Liberation Sans", sans-serif' font-size="13.78" fill="#000" >−1</text>
<text transform="matrix(1.0830,0,0,1,335.22,1247.80)" font-family='"Liberation Serif", serif' font-size="22.26" fill="#000" >m</text>
<text transform="matrix(1.2669,0,0,1,354.43,1241.10)" font-family='"Liberation Sans", sans-serif' font-size="13.78" fill="#000" >−1</text>
<text transform="matrix(0.9783,0,0,1,375.24,1247.80)" font-family='"Liberation Serif", serif' font-size="22.26" fill="#000" >]</text>
<text transform="matrix(1.1054,0,0,1,450.02,1247.80)" font-family='"Liberation Serif", serif' font-size="22.26" fill="#000" >Extinct. coeff. [Mm</text>
<text transform="matrix(1.2321,0,0,1,645.25,1240.90)" font-family='"Liberation Sans", sans-serif' font-size="13.78" fill="#000" >−1</text>
<text transform="matrix(0.8985,0,0,1,666.70,1247.80)" font-family='"Liberation Serif", serif' font-size="22.26" fill="#000" >]</text>
<text transform="matrix(1.1517,0,0,1,798.00,1243.70)" font-family='"Liberation Serif", serif' font-size="22.26" fill="#000" >Lidar ratio [Sr]</text>
<text transform="matrix(1.0039,0,0,1,1115.46,1249.90)" font-family='"Liberation Sans", sans-serif' font-size="21.20" font-style="italic" fill="#000" >Å</text>
<text transform="matrix(1.1353,0,0,1,1128.23,1249.90)" font-family='"Liberation Serif", serif' font-size="22.26" fill="#000" >ngström Exp.</text>
<text transform="matrix(1.1230,0,0,1,1442.51,1244.20)" font-family='"Liberation Serif", serif' font-size="22.26" fill="#000" >Depol. ratio</text>
<text transform="matrix(0.9759,0,0,1,1732.70,1248.00)" font-family='"Liberation Serif", serif' font-size="22.26" fill="#000" >WVMR [</text>
<text transform="matrix(0.9347,0,0,1,1816.75,1248.00)" font-family='"Liberation Sans", sans-serif' font-size="21.20" font-style="italic" fill="#000" >g</text>
<text transform="matrix(0.7376,0,0,1,1832.34,1248.00)" font-family='"Liberation Sans", sans-serif' font-size="21.20" fill="#000" >∗</text>
<text transform="matrix(1.0075,0,0,1,1847.53,1248.00)" font-family='"Liberation Sans", sans-serif' font-size="21.20" font-style="italic" fill="#000" >kg</text>
<text transform="matrix(1.2530,0,0,1,1872.64,1241.20)" font-family='"Liberation Sans", sans-serif' font-size="13.78" fill="#000" >−1</text>
<text transform="matrix(0.9983,0,0,1,1893.42,1248.00)" font-family='"Liberation Serif", serif' font-size="22.26" fill="#000" >]</text>
<text transform="matrix(1.0928,0,0,1,1728.33,93.20)" font-family='"Liberation Serif", serif' font-size="22.26" fill="#000" >Rel.Humidity [%]</text>
<g transform="translate(102.9,661.8) rotate(-90)">
<text transform="matrix(1.1308,0,0,1,-61.29,0.00)" font-family='"Liberation Serif", serif' font-size="22.26" fill="#000" >Height [km]</text>
</g>
<rect x="195.2" y="1276" width="199.8" height="65.79999999999995" fill="#eceef4" fill-opacity="0.85"/>
<text transform="matrix(1.1244,0,0,1,199.72,1294.80)" font-family='"Liberation Serif", serif' font-size="17.03" fill="#000" >ref.H_355: nan-nan km</text>
<text transform="matrix(1.1153,0,0,1,199.72,1313.90)" font-family='"Liberation Serif", serif' font-size="17.03" fill="#000" >ref.H_532: nan-nan km</text>
<text transform="matrix(1.1246,0,0,1,199.72,1333.70)" font-family='"Liberation Serif", serif' font-size="17.03" fill="#000" >ref.H_1064: nan-nan km</text>
<rect x="1695" y="1274" width="175" height="27.799999999999955" fill="#eceef4" fill-opacity="0.85"/>
<text transform="matrix(1.1013,0,0,1,1700.40,1291.60)" font-family='"Liberation Serif", serif' font-size="17.03" fill="#000" >WV-calib.const.: 42.0</text>
<text transform="matrix(1.1097,0,0,1,1000.80,1327.80)" font-family='"Liberation Serif", serif' font-size="15.47" font-weight="bold" fill="#ff2020" >Preliminary</text>
<text transform="matrix(1.1450,0,0,1,1000.79,1342.80)" font-family='"Liberation Serif", serif' font-size="15.47" font-weight="bold" fill="#ff2020" >Results.</text>
<text transform="matrix(1.1148,0,0,1,1500.21,1331.90)" font-family='"Liberation Serif", serif' font-size="12.35" font-weight="bold" fill="#000" >© TROPOS &amp; FMI 2026.</text>
<text transform="matrix(1.1472,0,0,1,1499.73,1343.80)" font-family='"Liberation Serif", serif' font-size="12.35" font-weight="bold" fill="#000" >CC BY SA 4.0 License.</text>
<g>
<clipPath id="ccclip"><rect x="663" y="1298" width="154" height="53" rx="1.5"/></clipPath>
<rect x="662.5" y="1297.5" width="155" height="54" rx="2" fill="#babfba"/>
<g clip-path="url(#ccclip)">
<rect x="662" y="1336" width="156" height="16" fill="#333"/>
<circle cx="689.2" cy="1322.4" r="25.8" fill="#babfba"/>
</g>
<rect x="662.5" y="1297.5" width="155" height="54" rx="2" fill="none" stroke="#333" stroke-width="1.2"/>
<circle cx="689.1" cy="1322.4" r="18.3" fill="#fff" stroke="#333" stroke-width="3.9"/>
<text x="689.6" y="1329.3" text-anchor="middle" font-family="'Liberation Sans', sans-serif" font-weight="bold" font-size="22.5" fill="#333" letter-spacing="-1.3">cc</text>
<circle cx="744.1" cy="1316.5" r="13.6" fill="#fff" stroke="#333" stroke-width="2.9"/>
<circle cx="744.3" cy="1308.6" r="1.9" fill="#333"/>
<path d="M740.25,1312.2 H748.25 V1318.8 H746.5 V1326 H742.2 V1318.8 H740.25 Z" fill="#333"/>
<circle cx="781.2" cy="1316.3" r="13.6" fill="#fff" stroke="#333" stroke-width="3"/>
<path d="M776.6,1314.3 A5.3,6.6 0 1 1 776.4,1319.3" fill="none" stroke="#333" stroke-width="3.0"/>
<path d="M773.4,1313.6 L779.8,1313.6 L776.6,1317.6 Z" fill="#333"/>
<text x="743.4" y="1348.6" text-anchor="middle" font-family="'Liberation Sans', sans-serif" font-weight="bold" font-size="11.8" fill="#fff">BY</text>
<text x="779.9" y="1348.6" text-anchor="middle" font-family="'Liberation Sans', sans-serif" font-weight="bold" font-size="11.8" fill="#fff">SA</text>
</g>
<defs><clipPath id="c2"><rect x="446" y="123" width="232" height="1076"/></clipPath><clipPath id="c4"><rect x="1073" y="123" width="233" height="1076"/></clipPath></defs>
</svg>
</body></html>
